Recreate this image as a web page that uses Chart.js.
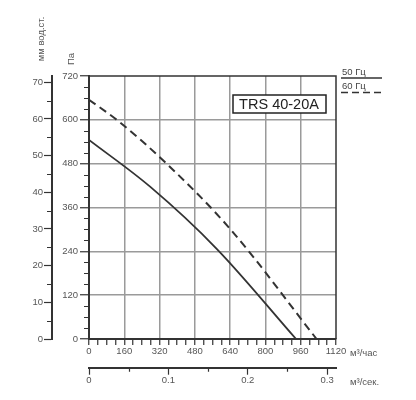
<!DOCTYPE html>
<html><head><meta charset="utf-8">
<script src="https://cdn.jsdelivr.net/npm/chart.js@4/dist/chart.umd.min.js"></script>
<style>html,body{margin:0;padding:0;background:#fff;overflow:hidden}</style>
</head><body>
<canvas id="c" width="416" height="400"></canvas>
<script>
// ---- data ----
const flow50 = [0, 277, 579, 939];          // м³/час
const pa50   = [545, 417, 247, 0];          // Па
const flow60 = [0, 130, 352, 639, 1032];
const pa60   = [655, 598, 480, 302, 0];

const flowMax = 1120, flowMajor = 160, flowMinor = 40;
const paMax = 720, paMajor = 120, paMinor = 30;
const mmMax = 71.72, mmMajor = 10, mmMinor = 5;
const m3sMax = 1120 / 3600, m3sMajor = 0.1, m3sMinor = 0.05;

const modelName = 'TRS 40-20A';
const legendLabels = ['50 Гц', '60 Гц'];
const unitFlowH = 'м³/час', unitFlowS = 'м³/сек.', unitPa = 'Па', unitMm = 'мм вод.ст.';

// ---- styles ----
const FONT = 'Liberation Sans';
const TXT = '#555';
const DARK = '#333';
const GRID = '#9a9a9a';
const tickFont = { family: FONT, size: 9.5 };

const isMult = (v, m) => Math.abs(v / m - Math.round(v / m)) < 1e-6;

const extras = {
  id: 'extras',
  afterDraw(chart) {
    const ctx = chart.ctx, a = chart.chartArea, s = chart.scales;
    ctx.save();
    // plot frame
    ctx.strokeStyle = DARK; ctx.lineWidth = 1.5;
    ctx.beginPath();
    ctx.moveTo(a.left, a.top); ctx.lineTo(a.right, a.top); ctx.lineTo(a.right, a.bottom);
    ctx.stroke();
    // minor ticks
    ctx.lineWidth = 1.2;
    ctx.beginPath();
    for (let v = paMinor; v < paMax; v += paMinor) {
      if (isMult(v, paMajor)) continue;
      const y = Math.round(s.y.getPixelForValue(v)) + 0.5;
      ctx.moveTo(s.y.right - 5, y); ctx.lineTo(s.y.right, y);
    }
    for (let v = mmMinor; v < mmMax; v += mmMinor) {
      if (isMult(v, mmMajor)) continue;
      const y = Math.round(s.y2.getPixelForValue(v)) + 0.5;
      ctx.moveTo(s.y2.right - 5, y); ctx.lineTo(s.y2.right, y);
    }
    for (let v = m3sMinor; v < m3sMax; v += m3sMajor) {
      const x = Math.round(s.x2.getPixelForValue(v)) + 0.5;
      ctx.moveTo(x, s.x2.top); ctx.lineTo(x, s.x2.top + 4);
    }
    ctx.stroke();

    // axis titles
    ctx.fillStyle = TXT;
    ctx.font = '9.5px "' + FONT + '"';
    ctx.textBaseline = 'middle';
    ctx.save(); ctx.translate(71, 59); ctx.rotate(-Math.PI / 2);
    ctx.textAlign = 'center'; ctx.fillText(unitPa, 0, 0); ctx.restore();
    ctx.save(); ctx.translate(41, 39); ctx.rotate(-Math.PI / 2);
    ctx.textAlign = 'center'; ctx.fillText(unitMm, 0, 0); ctx.restore();
    ctx.textAlign = 'left';
    ctx.fillText(unitFlowH, 350, 353);
    ctx.fillText(unitFlowS, 350, 382);

    // legend
    ctx.fillStyle = '#444';
    ctx.fillText(legendLabels[0], 342, 72);
    ctx.fillText(legendLabels[1], 342, 86.5);
    ctx.strokeStyle = DARK; ctx.lineWidth = 1.5;
    ctx.beginPath(); ctx.moveTo(341, 78); ctx.lineTo(382, 78); ctx.stroke();
    ctx.setLineDash([7, 4]);
    ctx.beginPath(); ctx.moveTo(341, 92.5); ctx.lineTo(382, 92.5); ctx.stroke();
    ctx.setLineDash([]);

    // model box
    ctx.fillStyle = '#fff';
    ctx.fillRect(233, 95, 93, 18);
    ctx.strokeStyle = '#222'; ctx.lineWidth = 1.5;
    ctx.strokeRect(233, 95, 93, 18);
    ctx.fillStyle = '#222';
    ctx.font = '14.5px "' + FONT + '"';
    ctx.textAlign = 'center';
    ctx.fillText(modelName, 279, 104.5);
    ctx.restore();
  }
};

new Chart(document.getElementById('c'), {
  type: 'line',
  data: {
    datasets: [
      {
        label: legendLabels[0],
        data: flow50.map((x, i) => ({ x, y: pa50[i] })),
        borderColor: DARK, borderWidth: 1.8, pointRadius: 0,
        cubicInterpolationMode: 'monotone', xAxisID: 'x', yAxisID: 'y'
      },
      {
        label: legendLabels[1],
        data: flow60.map((x, i) => ({ x, y: pa60[i] })),
        borderColor: DARK, borderWidth: 2, borderDash: [8, 5], pointRadius: 0,
        cubicInterpolationMode: 'monotone', xAxisID: 'x', yAxisID: 'y'
      }
    ]
  },
  options: {
    responsive: false,
    animation: false,
    events: [],
    layout: { padding: { left: 0, top: 76, right: 80, bottom: 0 } },
    plugins: { legend: { display: false }, tooltip: { enabled: false } },
    scales: {
      x: {
        type: 'linear', position: 'bottom', weight: 0, min: 0, max: flowMax,
        ticks: {
          stepSize: flowMinor, autoSkip: false, maxRotation: 0, padding: 1,
          font: tickFont, color: TXT,
          callback: v => isMult(v, flowMajor) ? String(v) : ''
        },
        grid: {
          color: c => (c.tick && isMult(c.tick.value, flowMajor) && c.tick.value > 0 && c.tick.value < flowMax) ? GRID : 'rgba(0,0,0,0)',
          lineWidth: 1.5, tickColor: DARK, tickLength: 6, tickWidth: 1.2
        },
        border: { display: true, color: DARK, width: 2 },
        afterFit: sc => { sc.height = 28.7; }
      },
      x2: {
        type: 'linear', position: 'bottom', weight: 1, min: 0, max: m3sMax,
        ticks: {
          stepSize: m3sMajor, includeBounds: false, autoSkip: false, maxRotation: 0, padding: 0,
          font: tickFont, color: TXT,
          callback: v => isMult(v, m3sMajor) ? (Math.round(v * 10) / 10).toString() : ''
        },
        grid: { drawOnChartArea: false, tickColor: DARK, tickLength: 7, tickWidth: 1.2 },
        border: { display: true, color: DARK, width: 2 },
        afterFit: sc => { sc.height = 32.3; }
      },
      y: {
        type: 'linear', position: 'left', weight: 0, min: 0, max: paMax,
        ticks: {
          stepSize: paMinor, autoSkip: false, padding: 2,
          font: tickFont, color: TXT,
          callback: v => isMult(v, paMajor) ? String(v) : ''
        },
        grid: {
          color: c => (c.tick && isMult(c.tick.value, paMajor) && c.tick.value > 0 && c.tick.value < paMax) ? GRID : 'rgba(0,0,0,0)',
          tickColor: c => (c.tick && isMult(c.tick.value, paMajor)) ? DARK : 'rgba(0,0,0,0)',
          lineWidth: 1.5, tickLength: 9, tickWidth: 1.2
        },
        border: { display: true, color: DARK, width: 2 },
        afterFit: sc => { sc.width = 37; }
      },
      y2: {
        type: 'linear', position: 'left', weight: 1, min: 0, max: mmMax,
        ticks: {
          stepSize: mmMinor, includeBounds: false, autoSkip: false, padding: 1,
          font: tickFont, color: TXT,
          callback: v => isMult(v, mmMajor) ? String(v) : ''
        },
        grid: {
          drawOnChartArea: false,
          tickColor: c => (c.tick && isMult(c.tick.value, mmMajor)) ? DARK : 'rgba(0,0,0,0)',
          tickLength: 8, tickWidth: 1.2
        },
        border: { display: true, color: DARK, width: 2 },
        afterFit: sc => { sc.width = 52; }
      }
    }
  },
  plugins: [extras]
});
</script>
</body></html>
